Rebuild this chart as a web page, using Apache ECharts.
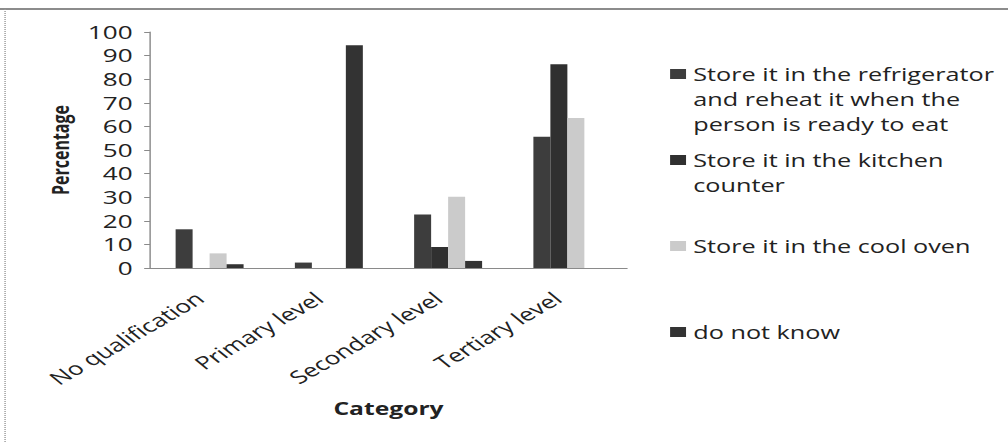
<!DOCTYPE html>
<html>
<head>
<meta charset="utf-8">
<script src="https://cdn.jsdelivr.net/npm/echarts@6/dist/echarts.min.js"></script>
<style>
  html, body { margin: 0; padding: 0; background: #fff; overflow: hidden; }
  /* The chart is laid out narrower and widened horizontally, giving the wide lettering */
  #wrap { width: 1008px; height: 442px; overflow: hidden; }
  #chart { width: 695px; height: 442px; transform: scaleX(1.4504); transform-origin: 0 0; }
</style>
</head>
<body>
<div id="wrap"><div id="chart"></div></div>
<script>
// Education level of respondents
const categories = ['No qualification', 'Primary level', 'Secondary level', 'Tertiary level'];

// Where leftover food is kept (percentage of respondents)
const seriesNames = [
  'Store it in the refrigerator and reheat it when the person is ready to eat',
  'Store it in the kitchen counter',
  'Store it in the cool oven',
  'do not know'
];
const refrigerator = [16.4, 2.3, 22.7, 55.6];
const kitchenCounter = [0, 0, 8.9, 86.3];
const coolOven = [6.2, 0, 30.2, 63.6];
const doNotKnow = [1.6, 94.4, 3.0, 0];

const yTicks = [0, 10, 20, 30, 40, 50, 60, 70, 80, 90, 100];

const barColors = ['#3d3d3d', '#303030', '#cbcbcb', '#333333'];
const seriesValues = [refrigerator, kitchenCounter, coolOven, doNotKnow];

const FONT = '"Open Sans", sans-serif';
const LINE_H = 25;

// one legend block per series; empty lines above the name keep the icon level with its first line
const legendRows = [
  { top: 11.5, lines: 3 },
  { top: 122.5, lines: 2 },
  { top: 233.5, lines: 1 },
  { top: 319.5, lines: 1 }
];

const legends = seriesNames.map((name, i) => ({
  data: [name],
  orient: 'vertical',
  left: 462,
  top: legendRows[i].top,
  padding: 0,
  itemGap: 0,
  itemWidth: 11,
  itemHeight: 10,
  icon: 'rect',
  selectedMode: false,
  formatter: n => '\n'.repeat(legendRows[i].lines - 1) + n,
  textStyle: {
    fontFamily: FONT,
    fontSize: 17.4,
    color: '#222',
    lineHeight: LINE_H,
    width: 215,
    overflow: 'break'
  }
}));

const chart = echarts.init(document.getElementById('chart'), null, { renderer: 'svg' });

chart.setOption({
  animation: false,
  backgroundColor: '#fff',
  textStyle: { fontFamily: FONT },
  grid: { left: 103.4, right: 262.7, top: 32, bottom: 174, containLabel: false },
  legend: legends,
  xAxis: {
    type: 'category',
    data: categories,
    axisLine: { lineStyle: { color: '#8a8a8a', width: 1 } },
    axisTick: { show: false },
    axisLabel: {
      rotate: 40,
      interval: 0,
      margin: 22,
      padding: [0, 9, 0, 0],
      fontFamily: FONT,
      fontSize: 18,
      color: '#222'
    },
    name: 'Category',
    nameLocation: 'middle',
    nameGap: 132,
    nameTextStyle: { fontFamily: FONT, fontSize: 17, fontWeight: 'bold', color: '#222' }
  },
  yAxis: {
    type: 'value',
    min: yTicks[0],
    max: yTicks[yTicks.length - 1],
    interval: yTicks[1] - yTicks[0],
    splitLine: { show: false },
    axisLine: { show: true, lineStyle: { color: '#8a8a8a', width: 1 } },
    axisTick: { show: true, length: 4, lineStyle: { color: '#8a8a8a' } },
    axisLabel: { margin: 12, fontFamily: FONT, fontSize: 18, color: '#222' },
    name: 'Percentage',
    nameLocation: 'middle',
    nameRotate: 90,
    nameGap: 54,
    nameTextStyle: { fontFamily: FONT, fontSize: 16, fontWeight: 'bold', color: '#222' }
  },
  series: seriesNames.map((name, i) => ({
    name: name,
    type: 'bar',
    data: seriesValues[i],
    barGap: '0%',
    barCategoryGap: '43%',
    itemStyle: { color: barColors[i] }
  })),
  graphic: [
    // chart frame: solid top edge, dotted left edge
    { type: 'line', shape: { x1: 0, y1: 9, x2: 695, y2: 9 }, style: { stroke: '#666', lineWidth: 1.5 } },
    { type: 'line', shape: { x1: 3.5, y1: 9, x2: 3.5, y2: 442 }, style: { stroke: '#999', lineWidth: 1, lineDash: [1, 1] } }
  ]
});
</script>
</body>
</html>
